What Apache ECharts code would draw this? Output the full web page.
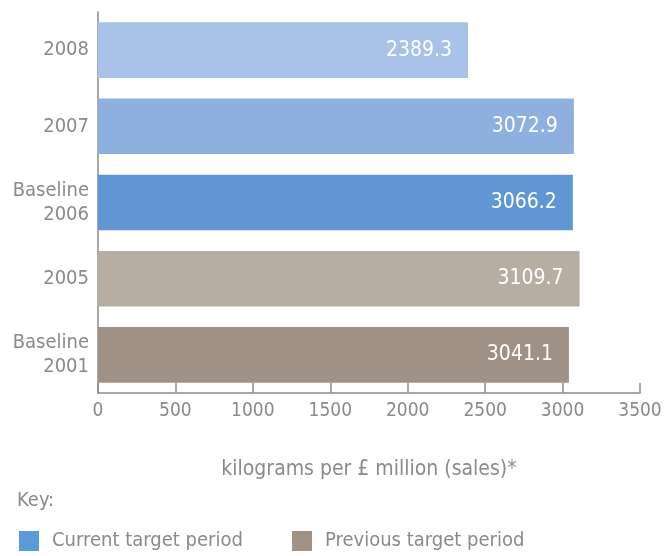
<!DOCTYPE html>
<html>
<head>
<meta charset="utf-8">
<style>
html,body{margin:0;padding:0;background:#fff;}
#chart{width:666px;height:556px;}
</style>
<script src="https://cdn.jsdelivr.net/npm/echarts@6/dist/echarts.min.js"></script>
</head>
<body>
<div id="chart"></div>
<script>
// Data (bottom to top on the chart)
const categories = ['Baseline\n2001', '2005', 'Baseline\n2006', '2007', '2008'];
const values = [3041.1, 3109.7, 3066.2, 3072.9, 2389.3];
const period = ['previous', 'previous', 'current', 'current', 'current'];
const xTicks = [0, 500, 1000, 1500, 2000, 2500, 3000, 3500];
const seriesNames = ['Current target period', 'Previous target period'];
const axisTitle = 'kilograms per £ million (sales)*';
const keyTitle = 'Key:';

// Styles
const barColors = ['#9f9186', '#b6ada3', '#5f96d3', '#8eb0df', '#a9c2e8'];
const legendColors = ['#5b9bd8', '#a09285'];
const FONT = '"DejaVu Sans Condensed", "Liberation Sans", sans-serif';
const TXT = '#8a8a8a';

function buildData(which) {
  return values.map((v, i) => period[i] === which
    ? { value: v, itemStyle: { color: barColors[i] } }
    : null);
}

const labelOpt = {
  show: true, position: 'insideRight', distance: 16,
  color: '#fff', fontFamily: FONT, fontSize: 21,
  formatter: p => p.value.toFixed(1)
};

const chart = echarts.init(document.getElementById('chart'), null, { renderer: 'canvas' });
chart.setOption({
  animation: false,
  backgroundColor: '#fff',
  title: {
    text: keyTitle, left: 12, top: 486,
    textStyle: { color: TXT, fontFamily: FONT, fontSize: 20, fontWeight: 'normal' }
  },
  legend: [
    {
      data: [seriesNames[0]], left: 14, top: 526, itemWidth: 20, itemHeight: 20,
      icon: 'rect',
      textStyle: { color: TXT, fontFamily: FONT, fontSize: 20, padding: [0, 0, 0, 8] }
    },
    {
      data: [seriesNames[1]], left: 287, top: 526, itemWidth: 20, itemHeight: 20,
      icon: 'rect',
      textStyle: { color: TXT, fontFamily: FONT, fontSize: 20, padding: [0, 0, 0, 8] }
    }
  ],
  grid: { left: 98, right: 26, top: 12, bottom: 163, containLabel: false },
  xAxis: {
    type: 'value', min: xTicks[0], max: xTicks[xTicks.length - 1],
    interval: xTicks[1] - xTicks[0],
    name: axisTitle, nameLocation: 'middle', nameGap: 66,
    nameTextStyle: { color: TXT, fontFamily: FONT, fontSize: 21 },
    axisLine: { show: true, lineStyle: { color: '#8c8c8c', width: 1.5 } },
    axisTick: { show: true, inside: true, length: 10, lineStyle: { color: '#8c8c8c', width: 1.5 } },
    axisLabel: { color: TXT, fontFamily: FONT, fontSize: 19, margin: 9, formatter: v => String(v) },
    splitLine: { show: false }
  },
  yAxis: {
    type: 'category', data: categories,
    axisLine: { show: true, lineStyle: { color: '#8c8c8c', width: 1.5 } },
    axisTick: { show: false },
    axisLabel: { color: TXT, fontFamily: FONT, fontSize: 20, margin: 9, lineHeight: 24, align: 'right' },
    splitLine: { show: false }
  },
  series: [
    {
      name: seriesNames[0], type: 'bar', stack: 'all', barCategoryGap: '27%',
      itemStyle: { color: legendColors[0] },
      label: labelOpt,
      data: buildData('current')
    },
    {
      name: seriesNames[1], type: 'bar', stack: 'all', barCategoryGap: '27%',
      itemStyle: { color: legendColors[1] },
      label: labelOpt,
      data: buildData('previous')
    }
  ]
});
</script>
</body>
</html>
